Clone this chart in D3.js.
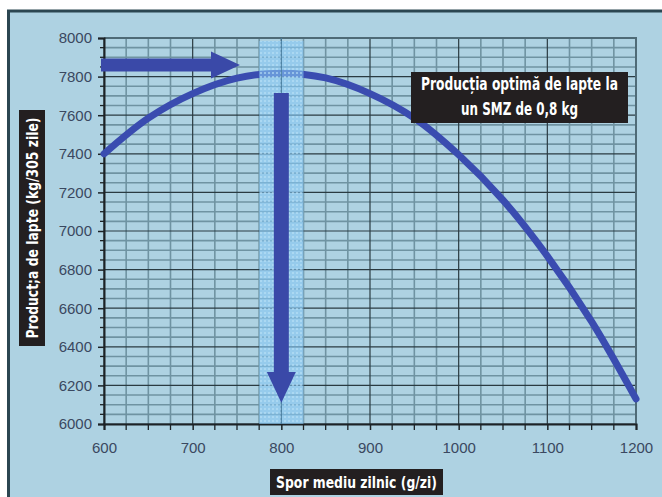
<!DOCTYPE html>
<html><head><meta charset="utf-8">
<script src="https://cdn.jsdelivr.net/npm/d3@7/dist/d3.min.js"></script>
<style>html,body{margin:0;padding:0;background:#fff;}svg{display:block;}</style>
</head><body>
<svg id="c" width="662" height="497"></svg>
<script>
// ---- data ----
const xValues = [600, 650, 700, 750, 800, 850, 900, 950, 1000, 1050, 1100, 1150, 1200];
const milkYield = [7400, 7585, 7712, 7792, 7818, 7793, 7712, 7585, 7395, 7160, 6870, 6530, 6130];
const xTicks = [600, 700, 800, 900, 1000, 1100, 1200];
const yTicks = [6000, 6200, 6400, 6600, 6800, 7000, 7200, 7400, 7600, 7800, 8000];
const optimumX = [800];
const bandRange = [775, 825];
const arrowLevel = [7860];
const annotationLines = ["Producția optimă de lapte la", "un SMZ de 0,8 kg"];
const yTitle = "Product;a de lapte (kg/305 zile)";
const xTitle = "Spor mediu zilnic (g/zi)";

const svg = d3.select("#c");
const x = d3.scaleLinear().domain([600, 1200]).range([104, 636]);
const y = d3.scaleLinear().domain([6000, 8000]).range([424, 38]);

// pattern for band
const defs = svg.append("defs");
const pat = defs.append("pattern").attr("id", "dots").attr("width", 4).attr("height", 4).attr("patternUnits", "userSpaceOnUse");
pat.append("rect").attr("width", 4).attr("height", 4).attr("fill", "#86c6f3").attr("opacity", 0.6);
pat.append("rect").attr("width", 2).attr("height", 2).attr("fill", "#b9e0f7").attr("opacity", 0.6);

// frame
svg.append("rect").attr("x", 0).attr("y", 0).attr("width", 662).attr("height", 497).attr("fill", "#fff");
svg.append("rect").attr("x", 8.5).attr("y", 11).attr("width", 700).attr("height", 520)
  .attr("fill", "#aed2e2").attr("stroke", "#2b4651").attr("stroke-width", 3);

// grid
const g = svg.append("g");
const minorX = d3.range(600, 1201, 25).filter(v => v % 100 !== 0);
const minorY = d3.range(6000, 8001, 50).filter(v => v % 200 !== 0);
g.selectAll(".mx").data(minorX).join("line")
  .attr("x1", d => x(d)).attr("x2", d => x(d)).attr("y1", y(8000)).attr("y2", y(6000))
  .attr("stroke", "#6f93a2").attr("stroke-width", 1.6);
g.selectAll(".my").data(minorY).join("line")
  .attr("x1", x(600)).attr("x2", x(1200)).attr("y1", d => y(d)).attr("y2", d => y(d))
  .attr("stroke", "#6f93a2").attr("stroke-width", 1.6);
g.selectAll(".Mx").data(xTicks).join("line")
  .attr("x1", d => x(d)).attr("x2", d => x(d)).attr("y1", y(8000)).attr("y2", y(6000))
  .attr("stroke", "#2a3b42").attr("stroke-width", 1.2);
g.selectAll(".My").data(yTicks).join("line")
  .attr("x1", x(600)).attr("x2", x(1200)).attr("y1", d => y(d)).attr("y2", d => y(d))
  .attr("stroke", "#2a3b42").attr("stroke-width", 1.2);
g.append("path").attr("d", `M${x(600)},${y(8000)}H${x(1200)}V${y(6000)}`)
  .attr("fill", "none").attr("stroke", "#4f6b77").attr("stroke-width", 2);

// axes
const yAxis = d3.axisLeft(y).tickValues(yTicks).tickSize(6).tickPadding(6).tickFormat(d3.format("d"));
const yg = svg.append("g").attr("transform", `translate(${x(600)},0)`).call(yAxis);
const xAxis = d3.axisBottom(x).tickValues(xTicks).tickSize(6).tickPadding(12).tickFormat(d3.format("d"));
const xg = svg.append("g").attr("transform", `translate(0,${y(6000)})`).call(xAxis);
[yg, xg].forEach(a => {
  a.select(".domain").attr("stroke", "#1d2326").attr("stroke-width", 2);
  a.selectAll(".tick line").attr("stroke", "#1d2326").attr("stroke-width", 1.5);
  a.selectAll("text").attr("fill", "#3a4860").attr("font-family", "Liberation Sans, Arial, sans-serif").attr("font-size", 15);
});
svg.selectAll(".mty").data(minorY).join("line")
  .attr("x1", x(600) - 4).attr("x2", x(600)).attr("y1", d => y(d)).attr("y2", d => y(d))
  .attr("stroke", "#1d2326").attr("stroke-width", 1.3);
svg.selectAll(".mtx").data(minorX).join("line")
  .attr("x1", d => x(d)).attr("x2", d => x(d)).attr("y1", y(6000)).attr("y2", y(6000) + 6)
  .attr("stroke", "#1d2326").attr("stroke-width", 1.3);

// curve
const line = d3.line().x((d, i) => x(xValues[i])).y(d => y(d)).curve(d3.curveCatmullRom.alpha(0.5));
svg.append("path").datum(milkYield).attr("d", line)
  .attr("fill", "none").attr("stroke", "#3a4cb0").attr("stroke-width", 7).attr("stroke-linecap", "round");

// band
svg.append("rect").attr("x", x(bandRange[0])).attr("width", x(bandRange[1]) - x(bandRange[0]))
  .attr("y", y(8000) + 3).attr("height", y(6000) - y(8000) - 3)
  .attr("fill", "url(#dots)");
svg.append("line").attr("x1", x(optimumX[0])).attr("x2", x(optimumX[0])).attr("y1", y(8000)).attr("y2", y(6000))
  .attr("stroke", "#4a7fa0").attr("stroke-width", 1);

const arrowColor = "#3a49a8";
// horizontal arrow
const ay = y(arrowLevel[0]);
const hx0 = x(600) - 3;
const hTip = 240;
svg.append("path")
  .attr("d", `M${hx0},${ay - 6.5}H${hTip - 29}V${ay - 13.5}L${hTip},${ay}L${hTip - 29},${ay + 13.5}V${ay + 6.5}H${hx0}Z`)
  .attr("fill", arrowColor);
// vertical arrow
const vx = x(optimumX[0]);
const vTop = y(7715), vHeadStart = y(6270), vTip = y(6110);
svg.append("path")
  .attr("d", `M${vx - 7.5},${vTop}H${vx + 7.5}V${vHeadStart}H${vx + 14.5}L${vx},${vTip}L${vx - 14.5},${vHeadStart}H${vx - 7.5}Z`)
  .attr("fill", arrowColor);

// condensed text helper: keep the font size, squeeze horizontally to the target width
const tf = "'Liberation Sans Narrow', 'DejaVu Sans Condensed', sans-serif";
function condText(cx, by, txt, fs, target, rotate) {
  const outer = svg.append("g").attr("transform", `translate(${cx},${by})` + (rotate ? " rotate(-90)" : ""));
  const inner = outer.append("g");
  const s = inner.append("text").attr("x", 0).attr("y", 0).attr("text-anchor", "middle")
    .attr("font-family", tf).attr("font-weight", "bold").attr("font-size", fs).attr("fill", "#fff").text(txt);
  const w = s.node().getComputedTextLength();
  const k = w > 0 ? Math.min(1, target / w) : 1;
  inner.attr("transform", `scale(${k.toFixed(4)},1)`);
  return s;
}

// annotation box
svg.append("rect").attr("x", 411).attr("y", 72).attr("width", 217).attr("height", 51).attr("fill", "#231f20");
condText(519.5, 89.5, annotationLines[0], 17.5, 197);
condText(519.5, 115, annotationLines[1], 17.5, 117);

// y title
svg.append("rect").attr("x", 19).attr("y", 110).attr("width", 26).attr("height", 236).attr("fill", "#231f20");
condText(38, 228, yTitle, 16.5, 221, true);

// x title
svg.append("rect").attr("x", 270).attr("y", 469).attr("width", 173).attr("height", 26).attr("fill", "#231f20");
condText(356.5, 488, xTitle, 16.5, 161);
</script>
</body></html>
